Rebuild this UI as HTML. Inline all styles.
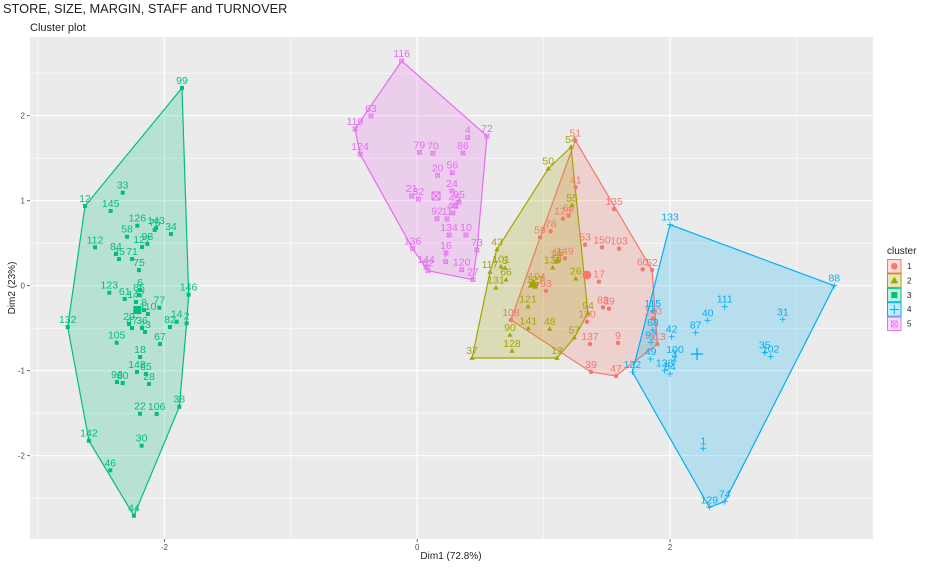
<!DOCTYPE html>
<html><head><meta charset="utf-8">
<style>
body{margin:0;background:#fff;width:940px;height:573px;overflow:hidden;font-family:"Liberation Sans",sans-serif}
svg text{font-family:"Liberation Sans",sans-serif}
</style></head>
<body>
<svg id="chart" width="940" height="573" viewBox="0 0 940 573" xmlns="http://www.w3.org/2000/svg">
<text x="3" y="13" font-size="12.8" fill="#222">STORE, SIZE, MARGIN, STAFF and TURNOVER</text>
<text x="30" y="31" font-size="11" fill="#222">Cluster plot</text>
<rect x="30" y="37" width="843" height="502" fill="#EBEBEB"/>
<g id="grid"></g><g id="hulls"></g><g id="marks"></g><g id="axes"></g>
<text x="451" y="559" font-size="10" text-anchor="middle" fill="#222">Dim1 (72.8%)</text>
<text transform="translate(15,288) rotate(-90)" font-size="10" text-anchor="middle" fill="#222">Dim2 (23%)</text>
<g id="legend"></g>
</svg>
<script>
const clusterNames = ["1","2","3","4","5"];
const colors = ["#F8766D","#A3A500","#00BF7D","#00B0F6","#E76BF3"];
const xTicks = [-2,0,2];
const yTicks = [-2,-1,0,1,2];
const xMinor = [-3,-1,1,3];
const yMinor = [-2.5,-1.5,-0.5,0.5,1.5,2.5];
// cluster 1
const c1Labels = ["51","41","135","64","125","59","78","53","150","103","149","19","60","52","17","104","93","83","89","108","130","140","113","137","9","39","47"];
const c1X = [1.251,1.254,1.557,1.197,1.153,0.972,1.056,1.328,1.462,1.597,1.169,1.098,1.784,1.858,1.438,0.948,1.019,1.470,1.517,0.742,1.343,1.865,1.900,1.367,1.589,1.375,1.573];
const c1Y = [1.711,1.158,0.902,0.824,0.788,0.569,0.640,0.482,0.452,0.435,0.322,0.279,0.193,0.185,0.047,0.020,-0.062,-0.254,-0.271,-0.404,-0.424,-0.384,-0.686,-0.686,-0.674,-1.015,-1.062];
// cluster 2
const c2Labels = ["54","50","55","43","15","139","101","5","66","117","131","26","127","121","94","141","48","90","57","128","37","13"];
const c2X = [1.217,1.037,1.225,0.631,1.114,1.072,0.663,0.695,0.703,0.576,0.623,1.254,0.932,0.877,1.351,0.879,1.048,0.734,1.243,0.750,0.434,1.106];
const c2Y = [1.632,1.376,0.946,0.428,0.302,0.212,0.224,0.208,0.071,0.161,-0.024,0.082,-0.015,-0.247,-0.321,-0.501,-0.509,-0.580,-0.612,-0.768,-0.851,-0.851];
// cluster 3
const c3Labels = ["99","33","12","145","126","143","76","34","58","98","127","112","84","25","71","75","6","123","61","85","146","147","8","77","110","132","29","47","36","23","14","2","82","105","67","18","148","65","28","96","80","22","106","38","142","30","46","44"];
const c3X = [-1.861,-2.330,-2.628,-2.425,-2.214,-2.066,-2.077,-1.948,-2.296,-2.135,-2.177,-2.549,-2.383,-2.359,-2.256,-2.201,-2.193,-2.436,-2.314,-2.201,-1.808,-2.225,-2.161,-2.040,-2.130,-2.765,-2.280,-2.256,-2.177,-2.153,-1.903,-1.824,-1.956,-2.377,-2.035,-2.193,-2.217,-2.146,-2.122,-2.375,-2.330,-2.193,-2.061,-1.882,-2.597,-2.180,-2.428,-2.241];
const c3Y = [2.326,1.094,0.938,0.879,0.706,0.679,0.655,0.608,0.576,0.491,0.455,0.452,0.373,0.314,0.314,0.184,-0.051,-0.082,-0.156,-0.109,-0.106,-0.192,-0.286,-0.259,-0.333,-0.486,-0.451,-0.498,-0.498,-0.545,-0.424,-0.442,-0.486,-0.671,-0.686,-0.839,-1.015,-1.038,-1.156,-1.133,-1.145,-1.506,-1.509,-1.424,-1.824,-1.882,-2.172,-2.706];
// cluster 4
const c4Labels = ["133","88","111","31","40","87","42","115","68","97","35","102","100","3","49","138","84","122","1","129","74"];
const c4X = [2.000,3.300,2.433,2.892,2.298,2.203,2.013,1.863,1.865,1.850,2.749,2.797,2.040,2.032,1.847,1.958,2.000,1.702,2.263,2.311,2.433];
const c4Y = [0.718,0.000,-0.247,-0.395,-0.407,-0.553,-0.600,-0.298,-0.521,-0.666,-0.788,-0.835,-0.839,-0.886,-0.862,-1.000,-1.039,-1.015,-1.913,-2.607,-2.541];
// cluster 5
const c5Labels = ["116","63","119","124","72","4","86","79","70","20","56","24","21","32","95","45","48","92","11","134","10","136","73","16","7","144","62","120","27"];
const c5X = [-0.123,-0.366,-0.492,-0.452,0.552,0.400,0.362,0.017,0.125,0.162,0.278,0.275,-0.044,0.009,0.331,0.297,0.283,0.157,0.236,0.252,0.386,-0.036,0.473,0.228,0.225,0.070,0.085,0.352,0.441];
const c5Y = [2.644,1.996,1.844,1.549,1.761,1.741,1.561,1.569,1.558,1.299,1.329,1.114,1.055,1.020,0.985,0.941,0.855,0.788,0.785,0.596,0.596,0.435,0.420,0.385,0.282,0.220,0.176,0.188,0.071];
const centroidX = [1.343,0.916,-2.214,2.214,0.149];
const centroidY = [0.126,0.020,-0.286,-0.804,1.055];

const allLabels=[c1Labels,c2Labels,c3Labels,c4Labels,c5Labels];
const allX=[c1X,c2X,c3X,c4X,c5X];
const allY=[c1Y,c2Y,c3Y,c4Y,c5Y];

const X0=417.2, XS=126.4, Y0=285.7, YS=85;
function sx(v){return X0+v*XS;}
function sy(v){return Y0-v*YS;}
const NS="http://www.w3.org/2000/svg";
function mk(tag,attrs,parent){const e=document.createElementNS(NS,tag);for(const k in attrs)e.setAttribute(k,attrs[k]);parent.appendChild(e);return e;}

const grid=document.getElementById('grid');
const axes=document.getElementById('axes');
xMinor.forEach(v=>{const l=mk('line',{x1:sx(v),x2:sx(v),y1:37,y2:539,stroke:'#fff','stroke-width':0.6},grid);

});
yMinor.forEach(v=>{const l=mk('line',{x1:30,x2:873,y1:sy(v),y2:sy(v),stroke:'#fff','stroke-width':0.6},grid);

});
xTicks.forEach(v=>{const l=mk('line',{x1:sx(v),x2:sx(v),y1:37,y2:539,stroke:'#fff','stroke-width':1.2},grid);


mk('line',{x1:sx(v),x2:sx(v),y1:539,y2:542,stroke:'#444','stroke-width':0.8},axes);
const t=mk('text',{x:sx(v),y:550,'font-size':8,'text-anchor':'middle',fill:'#4d4d4d'},axes);t.textContent=v;

});
yTicks.forEach(v=>{const l=mk('line',{x1:30,x2:873,y1:sy(v),y2:sy(v),stroke:'#fff','stroke-width':1.2},grid);


mk('line',{x1:27,x2:30,y1:sy(v),y2:sy(v),stroke:'#444','stroke-width':0.8},axes);
const t=mk('text',{x:25,y:sy(v)+3,'font-size':8,'text-anchor':'end',fill:'#4d4d4d'},axes);t.textContent=v;

});

function hull(pts){pts=pts.slice().sort((a,b)=>a[0]-b[0]||a[1]-b[1]);
const cr=(o,a,b)=>(a[0]-o[0])*(b[1]-o[1])-(a[1]-o[1])*(b[0]-o[0]);
const lo=[],up=[];for(const p of pts){while(lo.length>=2&&cr(lo[lo.length-2],lo[lo.length-1],p)<=0)lo.pop();lo.push(p);}
for(let i=pts.length-1;i>=0;i--){const p=pts[i];while(up.length>=2&&cr(up[up.length-2],up[up.length-1],p)<=0)up.pop();up.push(p);}
up.pop();lo.pop();return lo.concat(up);}

function shape(g,k,x,y,s,col){
 if(k===0){mk('circle',{cx:x,cy:y,r:s*0.55,fill:col},g);}
 else if(k===1){mk('polygon',{points:`${x},${y-s*0.7} ${x-s*0.65},${y+s*0.45} ${x+s*0.65},${y+s*0.45}`,fill:col},g);}
 else if(k===2){mk('rect',{x:x-s/2,y:y-s/2,width:s,height:s,fill:col},g);}
 else if(k===3){mk('path',{d:`M${x-s*0.75},${y}H${x+s*0.75}M${x},${y-s*0.75}V${y+s*0.75}`,stroke:col,'stroke-width':Math.max(0.8,s/6)},g);}
 else {mk('rect',{x:x-s/2,y:y-s/2,width:s,height:s,fill:'none',stroke:col,'stroke-width':Math.max(0.7,s/8)},g);
  mk('path',{d:`M${x-s/2},${y-s/2}L${x+s/2},${y+s/2}M${x+s/2},${y-s/2}L${x-s/2},${y+s/2}`,stroke:col,'stroke-width':Math.max(0.7,s/8)},g);}
}

const hg=document.getElementById('hulls');
const mg=document.getElementById('marks');
for(let c=0;c<5;c++){
 const pts=allX[c].map((v,i)=>[sx(v),sy(allY[c][i])]);
 const h=hull(pts);
 const poly=mk('polygon',{points:h.map(p=>p.join(',')).join(' '),fill:colors[c],'fill-opacity':0.22,stroke:colors[c],'stroke-width':1.2},hg);
 
 
 allX[c].forEach((v,i)=>{
  const g=mk('g',{},mg);
  
  
  const px=sx(v),py=sy(allY[c][i]);
  shape(g,c,px,py,4,colors[c]);
  const t=mk('text',{x:px,y:py-4,'font-size':10.5,'text-anchor':'middle',fill:colors[c]},g);
  t.textContent=allLabels[c][i];
 });
 const cg=mk('g',{},mg);
 
 
 shape(cg,c,sx(centroidX[c]),sy(centroidY[c]),8,colors[c]);
}

const lg=document.getElementById('legend');
const lt=mk('text',{x:887,y:254,'font-size':10,fill:'#222'},lg);lt.textContent='cluster';


for(let c=0;c<5;c++){
 const y=259+c*14.4;
 const g=mk('g',{},lg);
 
 
 mk('rect',{x:887.5,y:y+0.5,width:13.5,height:13.5,fill:colors[c],'fill-opacity':0.25,stroke:colors[c],'stroke-width':1},g);
 shape(g,c,894.3,y+7.3,6,colors[c]);
 const t=mk('text',{x:907,y:y+10,'font-size':8,fill:'#222'},g);t.textContent=clusterNames[c];
}
</script>
</body></html>
